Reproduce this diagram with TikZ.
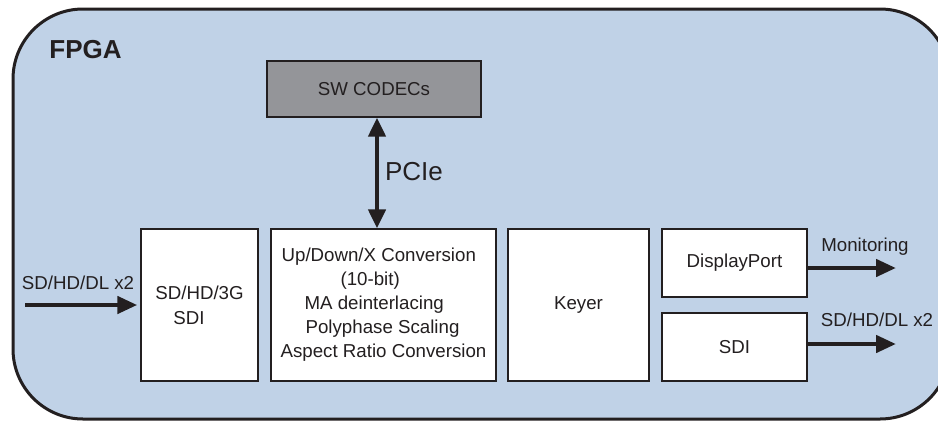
\documentclass[tikz,border=0pt]{standalone}
\usepackage{fontspec}
\setmainfont{Liberation Sans}
\usetikzlibrary{arrows.meta,calc}
\definecolor{fpgafill}{RGB}{192,210,231}
\definecolor{codecfill}{RGB}{148,149,153}
\definecolor{ink}{RGB}{35,31,32}

\begin{document}
\begin{tikzpicture}[x=1pt,y=-1pt,
  every node/.style={text=ink, font=\fontsize{18.7}{24}\selectfont},
  block/.style={draw=ink, line width=1.4pt, fill=white, inner sep=0pt},
  flow/.style={draw=ink, line width=4.5pt, -{Triangle[length=20pt,width=17pt]}},
  bothflow/.style={draw=ink, line width=4.5pt,
    {Triangle[length=19pt,width=17pt]}-{Triangle[length=19pt,width=17pt]}}
]
\useasboundingbox (0,0) rectangle (938,421);

% FPGA outline, running past the right border
\begin{scope}
  \clip (0,0) rectangle (938,421);
  \draw[fill=fpgafill, draw=ink, line width=3pt, rounded corners=70pt]
    (13,9) rectangle (950,419);
\end{scope}

\node[font=\bfseries\fontsize{26}{30}\selectfont] (fpga) at (85.5,50) {FPGA};

% processing blocks
\node[block, fill=codecfill, minimum width=214pt, minimum height=56pt] (codec) at (374,89) {SW CODECs};

\node[block, align=left, minimum width=117pt, minimum height=152pt] (sdiin) at (199.5,305)
  {SD/HD/3G\\[1pt]\hspace*{18pt}SDI};

\node[block, align=left, minimum width=225pt, minimum height=152pt] (conv) at (383.5,305)
  {\hspace*{1pt}Up/Down/X Conversion\\
   \hspace*{60pt}(10-bit)\\
   \hspace*{24pt}MA deinterlacing\\
   \hspace*{25pt}Polyphase Scaling\\
   Aspect Ratio Conversion};

\node[block, minimum width=141pt, minimum height=152pt] (keyer) at (578.5,305) {Keyer};
\node[block, minimum width=145pt, minimum height=68pt] (dp) at (734.5,263) {DisplayPort};
\node[block, minimum width=145pt, minimum height=68pt] (sdiout) at (734.5,347) {SDI};

% PCIe link
\draw[bothflow] ([xshift=3pt]codec.south) -- ([xshift=3pt]codec.south |- conv.north);
\node[font=\fontsize{26}{30}\selectfont] (pcie) at (414,172) {PCIe};

% video input
\coordinate (inStart) at (25,305);
\draw[flow, shorten >=3pt] (inStart) -- (inStart -| sdiin.west);
\node (inlbl) at (78,283) {SD/HD/DL x2};

% outputs
\coordinate (monEnd) at (896,268);
\draw[flow] (monEnd -| dp.east) -- (monEnd);
\node (monlbl) at (865,247) {Monitoring};

\coordinate (outEnd) at (896,344);
\draw[flow] (outEnd -| sdiout.east) -- (outEnd);
\node (outlbl) at (877,320) {SD/HD/DL x2};
\end{tikzpicture}
\end{document}
